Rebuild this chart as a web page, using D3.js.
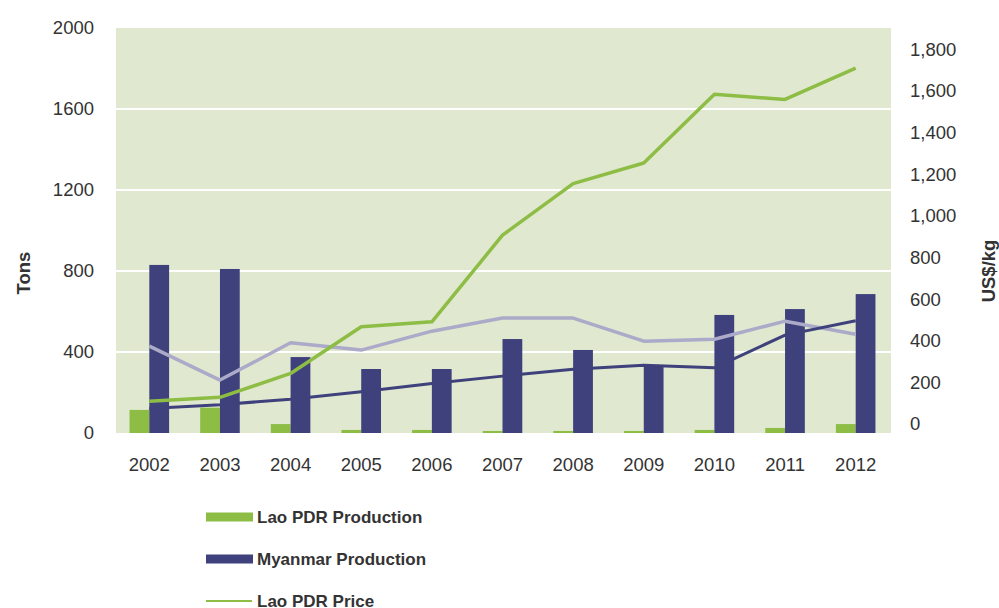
<!DOCTYPE html>
<html>
<head>
<meta charset="utf-8">
<script src="https://cdn.jsdelivr.net/npm/d3@7"></script>
<style>
  body { margin: 0; background: #fff; }
  svg { display: block; font-family: 'Liberation Sans', Arial, sans-serif; }
</style>
</head>
<body>
<svg id="chart" width="999" height="608"></svg>
<script>
'use strict'

// data
const years = ['2002', '2003', '2004', '2005', '2006', '2007', '2008', '2009', '2010', '2011', '2012']
const laoProduction = [114, 125, 44, 15, 15, 10, 10, 10, 15, 25, 44]
const myanmarProduction = [830, 810, 375, 316, 316, 464, 410, 335, 583, 612, 686]
const laoPrice = [109, 128, 243, 467, 491, 907, 1155, 1254, 1584, 1559, 1710]
const myanmarPrice = [75, 93, 119, 155, 195, 230, 263, 282, 270, 427, 496]
const otherPrice = [374, 211, 390, 355, 446, 509, 509, 398, 407, 494, 431]
const leftTicks = [0, 400, 800, 1200, 1600, 2000]
const rightTicks = [0, 200, 400, 600, 800, 1000, 1200, 1400, 1600, 1800]

const colors = {
  lao: '#8dbd45',
  myanmar: '#3e417b',
  other: '#abaac8',
  plotBg: '#e1e8d0',
  text: '#333333'
}

const plot = { left: 116, right: 891, top: 28, bottom: 433 }

const svg = d3.select('#chart')

const x = d3.scaleBand()
  .domain(years)
  .range([114, 891])
  .padding(0)

const groupWidth = x.bandwidth() * 0.56
const xSeries = d3.scaleBand()
  .domain(['lao', 'myanmar'])
  .range([(x.bandwidth() - groupWidth) / 2, (x.bandwidth() + groupWidth) / 2])

const yLeft = d3.scaleLinear()
  .domain([0, 2000])
  .range([plot.bottom, plot.top])

const yRight = d3.scaleLinear()
  .domain([0, 1800])
  .range([424, 49.3])

// plot background
svg.append('rect')
  .attr('x', plot.left)
  .attr('y', plot.top)
  .attr('width', plot.right - plot.left)
  .attr('height', plot.bottom - plot.top)
  .attr('fill', colors.plotBg)

// gridlines
svg.append('g')
  .selectAll('line')
  .data(leftTicks.filter(t => t > 0 && t < 2000))
  .join('line')
  .attr('x1', plot.left)
  .attr('x2', plot.right)
  .attr('y1', d => yLeft(d))
  .attr('y2', d => yLeft(d))
  .attr('stroke', '#ffffff')
  .attr('stroke-width', 2)

// bars
const barSeries = [
  { key: 'lao', values: laoProduction, color: colors.lao },
  { key: 'myanmar', values: myanmarProduction, color: colors.myanmar }
]

barSeries.forEach(series => {
  svg.append('g')
    .selectAll('rect')
    .data(series.values)
    .join('rect')
    .attr('x', (d, i) => x(years[i]) + xSeries(series.key))
    .attr('width', xSeries.bandwidth())
    .attr('y', d => yLeft(d))
    .attr('height', d => yLeft(0) - yLeft(d))
    .attr('fill', series.color)
})

// lines on the right axis
const lineMaker = d3.line()
  .x((d, i) => x(years[i]) + x.bandwidth() / 2)
  .y(d => yRight(d))

const lineSeries = [
  { values: otherPrice, color: colors.other, width: 3.5 },
  { values: myanmarPrice, color: colors.myanmar, width: 3 },
  { values: laoPrice, color: colors.lao, width: 3.5 }
]

lineSeries.forEach(series => {
  svg.append('path')
    .datum(series.values)
    .attr('d', lineMaker)
    .attr('fill', 'none')
    .attr('stroke', series.color)
    .attr('stroke-width', series.width)
    .attr('stroke-linejoin', 'round')
})

// axes
const leftAxis = svg.append('g')
  .attr('transform', `translate(${plot.left - 22},0)`)
  .call(d3.axisLeft(yLeft).tickValues(leftTicks).tickSize(0).tickPadding(0).tickFormat(d3.format('d')))

const rightAxis = svg.append('g')
  .attr('transform', `translate(${plot.right + 19},0)`)
  .call(d3.axisRight(yRight).tickValues(rightTicks).tickSize(0).tickPadding(0).tickFormat(d3.format(',')))

const bottomAxis = svg.append('g')
  .attr('transform', `translate(0,${plot.bottom + 32})`)
  .call(d3.axisBottom(x).tickSize(0).tickPadding(0))

;[leftAxis, rightAxis, bottomAxis].forEach(axis => {
  axis.select('.domain').remove()
  axis.selectAll('text')
    .attr('font-size', '18.5px')
    .attr('font-family', "'Liberation Sans', Arial, sans-serif")
    .attr('fill', colors.text)
})
bottomAxis.selectAll('text').attr('dy', '0.35em')

// axis titles
svg.append('text')
  .attr('transform', 'translate(30,273) rotate(-90)')
  .attr('text-anchor', 'middle')
  .attr('font-size', '18.5px')
  .attr('font-weight', 'bold')
  .attr('fill', colors.text)
  .text('Tons')

svg.append('text')
  .attr('transform', 'translate(995,271) rotate(-90)')
  .attr('text-anchor', 'middle')
  .attr('font-size', '18.5px')
  .attr('font-weight', 'bold')
  .attr('fill', colors.text)
  .text('US$/kg')

// legend (the picture is cut off below the third entry)
const legendItems = [
  { label: 'Lao PDR Production', color: colors.lao, type: 'bar' },
  { label: 'Myanmar Production', color: colors.myanmar, type: 'bar' },
  { label: 'Lao PDR Price', color: colors.lao, type: 'line' }
]

const legend = svg.append('g')
  .selectAll('g')
  .data(legendItems)
  .join('g')
  .attr('transform', (d, i) => `translate(206,${517 + i * 42})`)

legend.filter(d => d.type === 'bar')
  .append('rect')
  .attr('x', 0)
  .attr('y', -4.5)
  .attr('width', 47)
  .attr('height', 9)
  .attr('fill', d => d.color)

legend.filter(d => d.type === 'line')
  .append('line')
  .attr('x1', 0)
  .attr('x2', 46)
  .attr('y1', 0)
  .attr('y2', 0)
  .attr('stroke', d => d.color)
  .attr('stroke-width', 2)

legend.append('text')
  .attr('x', 51)
  .attr('y', 0)
  .attr('dy', '0.35em')
  .attr('font-size', '17px')
  .attr('font-weight', 'bold')
  .attr('fill', colors.text)
  .text(d => d.label)
</script>
</body>
</html>
